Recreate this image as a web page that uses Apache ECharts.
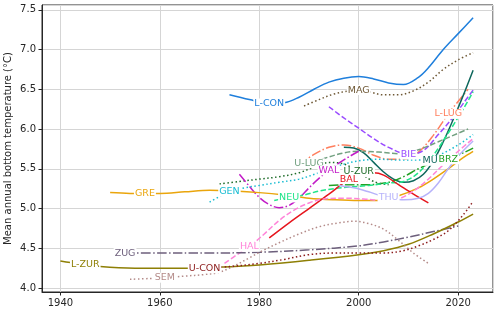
<!DOCTYPE html>
<html><head><meta charset="utf-8">
<script src="https://cdn.jsdelivr.net/npm/echarts@6/dist/echarts.min.js"></script>
<style>html,body{margin:0;padding:0;background:#fff}#c{width:500px;height:313px}</style>
</head><body><div id="c"></div>
<script>
// ---- data: [year, mean annual bottom temperature (°C)] ----
const lCon = [[1974,6.43],[1978,6.37],[1982,6.32],[1985,6.33],[1988,6.40],[1991,6.50],[1994,6.59],[1997,6.64],[2000,6.66],[2003,6.63],[2006,6.58],[2009,6.56],[2012,6.65],[2014,6.77],[2017,7.00],[2020,7.20],[2023,7.40]];
const mag = [[1989,6.29],[1992,6.37],[1995,6.44],[1998,6.48],[2000,6.49],[2002,6.47],[2005,6.43],[2008,6.43],[2011,6.48],[2014,6.59],[2017,6.75],[2020,6.87],[2023,6.96]];
const lLug = [[1988,5.55],[1991,5.68],[1994,5.77],[1997,5.80],[2000,5.76],[2003,5.67],[2006,5.62],[2009,5.62],[2012,5.71],[2015,5.92],[2018,6.19],[2022,6.50]];
const bie = [[1994,6.28],[1997,6.14],[2000,6.01],[2003,5.88],[2006,5.77],[2010,5.68],[2013,5.73],[2016,5.93],[2019,6.15],[2021,6.32],[2023,6.49]];
const mur = [[1997,5.77],[1999,5.76],[2001,5.70],[2003,5.58],[2005,5.46],[2007,5.37],[2009,5.33],[2011,5.35],[2013,5.43],[2015,5.60],[2017,5.84],[2019,6.12],[2021,6.42],[2023,6.74]];
const brz = [[1994,5.29],[1998,5.30],[2002,5.30],[2006,5.33],[2009,5.40],[2012,5.50],[2015,5.58],[2018,5.62],[2021,5.70],[2023,5.76]];
const uZur = [[1972,5.31],[1976,5.34],[1980,5.37],[1984,5.40],[1988,5.45],[1991,5.52],[1994,5.58],[1997,5.56],[2000,5.46],[2003,5.34],[2006,5.30]];
const uLug = [[1988,5.55],[1990,5.57],[1993,5.63],[1997,5.70],[2000,5.72],[2004,5.71],[2008,5.69],[2012,5.74],[2016,5.84],[2019,5.92],[2022,6.00]];
const wal = [[1976,5.43],[1978,5.28],[1980,5.14],[1982,5.05],[1984,5.01],[1986,5.04],[1988,5.13],[1990,5.26],[1992,5.38],[1994,5.48],[1996,5.57],[1998,5.65],[2000,5.72]];
const gen = [[1970,5.08],[1972,5.15],[1974,5.21],[1977,5.26],[1980,5.29],[1984,5.33],[1988,5.37],[1992,5.45],[1996,5.54],[2000,5.60],[2004,5.62],[2008,5.61],[2012,5.61],[2016,5.67],[2020,5.80],[2023,5.93]];
const neu = [[1983,5.10],[1986,5.14],[1989,5.17],[1992,5.22],[1995,5.25],[1998,5.27],[2002,5.29],[2006,5.32],[2009,5.34],[2012,5.45],[2015,5.67],[2018,5.95],[2021,6.25],[2023,6.47]];
const gre = [[1950,5.20],[1954,5.19],[1957,5.19],[1960,5.19],[1965,5.21],[1970,5.23],[1975,5.22],[1980,5.20],[1985,5.17],[1990,5.13],[1995,5.11],[2000,5.10],[2004,5.10],[2008,5.16],[2012,5.26],[2015,5.37],[2018,5.50],[2021,5.64],[2023,5.72]];
const bal = [[1982,4.63],[1986,4.82],[1990,5.00],[1994,5.18],[1998,5.37],[2001,5.45],[2003,5.45],[2005,5.42],[2008,5.30],[2011,5.18],[2014,5.07]];
const thu = [[1996,5.29],[1999,5.26],[2002,5.21],[2004,5.17],[2006,5.14],[2009,5.11],[2012,5.13],[2014,5.19],[2016,5.32],[2018,5.50],[2020,5.66],[2023,5.85]];
const hal = [[1973,4.31],[1976,4.44],[1978,4.52],[1981,4.68],[1984,4.85],[1987,4.98],[1990,5.07],[1993,5.12],[1997,5.13],[2001,5.12],[2005,5.10],[2008,5.12],[2011,5.22],[2014,5.37],[2017,5.55],[2020,5.72],[2023,5.88]];
const zug = [[1953,4.44],[1960,4.44],[1970,4.44],[1980,4.45],[1990,4.48],[2000,4.53],[2005,4.58],[2010,4.64],[2015,4.71],[2020,4.78]];
const lZur = [[1940,4.34],[1942,4.32],[1945,4.30],[1948,4.27],[1955,4.25],[1960,4.25],[1965,4.25],[1970,4.26],[1975,4.27],[1980,4.29],[1990,4.35],[2000,4.42],[2005,4.47],[2010,4.55],[2015,4.68],[2020,4.83],[2023,4.93]];
const sem = [[1954,4.11],[1958,4.12],[1961,4.13],[1965,4.15],[1969,4.17],[1972,4.20],[1975,4.28],[1978,4.38],[1981,4.48],[1984,4.57],[1988,4.68],[1992,4.77],[1996,4.82],[1999,4.84],[2002,4.81],[2005,4.74],[2008,4.60],[2011,4.44],[2014,4.31]];
const uCon = [[1969,4.25],[1974,4.27],[1980,4.31],[1985,4.36],[1990,4.42],[1995,4.44],[2000,4.44],[2005,4.44],[2009,4.47],[2012,4.53],[2015,4.61],[2018,4.72],[2021,4.92],[2023,5.09]];

const lakeNames  = ['L-CON','MAG','L-LUG','BIE','MUR','BRZ','U-ZUR','U-LUG','WAL','GEN','NEU','GRE','BAL','THU','HAL','ZUG','L-ZUR','SEM','U-CON'];
const lakeData   = [lCon, mag, lLug, bie, mur, brz, uZur, uLug, wal, gen, neu, gre, bal, thu, hal, zug, lZur, sem, uCon];
const labelYears = [1982, 2000, 2018, 2010, 2015, 2018, 2000, 1990, 1994, 1974, 1986, 1957, 1998, 2006, 1978, 1953, 1945, 1961, 1969];

// ---- styles ----
const lakeColors = ['#1f7fdc','#6e5835','#ff7f5e','#9a4cff','#0e675c','#23a024','#1d6b28','#72a080','#c21cc7','#18bcd2','#20e58a','#eaa50c','#e6151d','#b6b2fa','#ff84d9','#6d5f7c','#8e7f05','#b48b89','#8c1c1c'];
const DASH = [5.5,2.4], DOT = [1.5,2.5], DASHDOT = [9.6,2.4,1.5,2.4];
const lakeDash = ['solid',DOT,DASHDOT,DASH,'solid',DASHDOT,DOT,DASH,DASHDOT,DOT,DASH,'solid','solid','solid',DASH,DASHDOT,'solid',DOT,DOT];

const FONT = 'DejaVu Sans';
const series = lakeNames.map((name, i) => {
  const color = lakeColors[i];
  return {
    type: 'line', name, smooth: 0.35, symbol: 'circle', symbolSize: 0, showSymbol: true,
    lineStyle: { color, width: 1.5, type: lakeDash[i], cap: 'butt' },
    itemStyle: { color },
    emphasis: { disabled: true },
    silent: true,
    data: lakeData[i].map(p => p[0] === labelYears[i] ? {
      value: p,
      label: { show: true, formatter: name, position: 'inside', color, backgroundColor: '#fff',
               padding: [0, 1], fontSize: 9.5, fontFamily: FONT }
    } : p)
  };
});

const chart = echarts.init(document.getElementById('c'), null, { renderer: 'canvas' });
chart.setOption({
  animation: false,
  backgroundColor: '#fff',
  grid: { left: 42, right: 7, top: 5, bottom: 21, containLabel: false, outerBoundsMode: 'none',
          show: true, borderColor: '#262626', borderWidth: 1, backgroundColor: 'transparent' },
  xAxis: {
    type: 'value', min: 1936.3, max: 2027, splitNumber: 5,
    axisLine: { show: true, lineStyle: { color: '#262626', width: 1 } },
    axisTick: { show: true, inside: false, length: 3.5, lineStyle: { color: '#262626' } },
    axisLabel: { color: '#262626', fontSize: 10, fontFamily: FONT, margin: 6, showMinLabel: false, showMaxLabel: false,
                 formatter: v => String(Math.round(v)) },
    splitLine: { show: true, lineStyle: { color: '#d5d5d5', width: 1 } }
  },
  yAxis: {
    type: 'value', min: 3.95, max: 7.56, splitNumber: 7,
    name: 'Mean annual bottom temperature (°C)', nameLocation: 'middle', nameRotate: 90, nameGap: 29,
    nameMoveOverlap: false,
    nameTextStyle: { color: '#262626', fontSize: 10, fontFamily: FONT },
    axisLine: { show: true, lineStyle: { color: '#262626', width: 1 } },
    axisTick: { show: true, inside: false, length: 3.5, lineStyle: { color: '#262626' } },
    axisLabel: { color: '#262626', fontSize: 10, fontFamily: FONT, margin: 6, showMinLabel: false, showMaxLabel: false,
                 formatter: v => v.toFixed(1) },
    splitLine: { show: true, lineStyle: { color: '#d5d5d5', width: 1 } }
  },
  series
});
</script></body></html>
